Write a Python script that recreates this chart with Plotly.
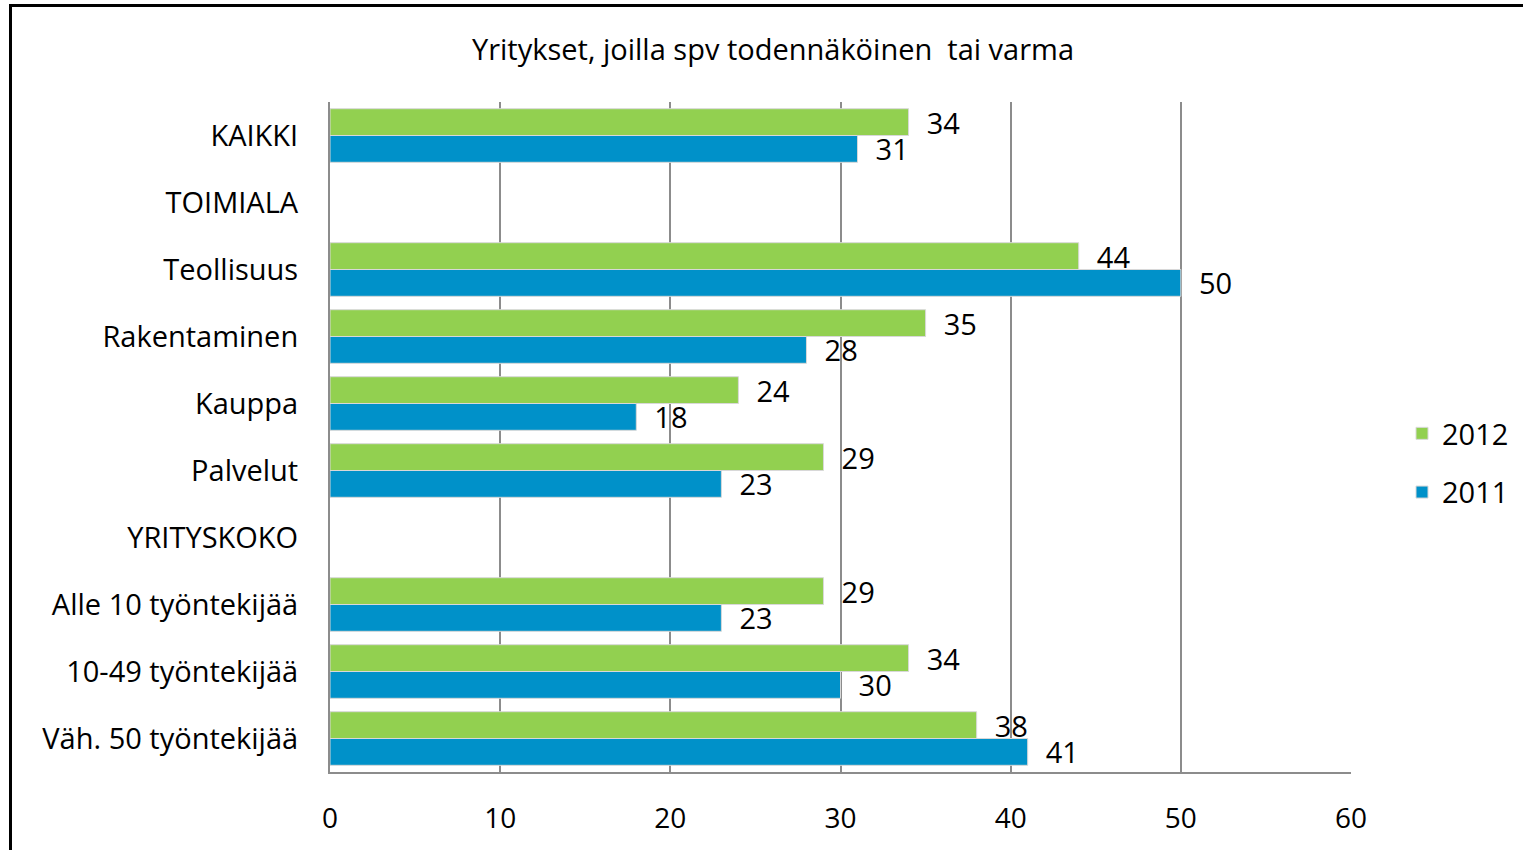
import plotly.graph_objects as go

categories = ["KAIKKI", "TOIMIALA", "Teollisuus", "Rakentaminen", "Kauppa", "Palvelut",
              "YRITYSKOKO", "Alle 10 työntekijää", "10-49 työntekijää", "Väh. 50 työntekijää"]
values_2012 = [34, None, 44, 35, 24, 29, None, 29, 34, 38]
values_2011 = [31, None, 50, 28, 18, 23, None, 23, 30, 41]
x_ticks = [0, 10, 20, 30, 40, 50, 60]
title_text = "Yritykset, joilla spv todennäköinen  tai varma"

FONT = "Open Sans"
green = "#92D050"
blue = "#0091C9"

def labels(vals):
    return ["" if v is None else "\u00a0\u00a0" + str(v) for v in vals]

fig = go.Figure()
for name, vals, col in [("2012", values_2012, green), ("2011", values_2011, blue)]:
    fig.add_trace(go.Bar(y=categories, x=vals, orientation="h", name=name, legendgroup=name,
                         marker=dict(color=col, line=dict(color="#d8d8d8", width=1)),
                         text=labels(vals), textposition="outside", constraintext="none",
                         textfont=dict(family=FONT, size=29, color="black"), cliponaxis=False))

L, R, T, B = 330, 172, 102, 78
W, H = 1523, 850
pw, ph = W - L - R, H - T - B

def px_x(p):
    return (p - L) / pw

def px_y(p):
    return (H - B - p) / ph

fig.update_layout(
    width=W, height=H,
    margin=dict(l=L, r=R, t=T, b=B, autoexpand=False),
    paper_bgcolor="white", plot_bgcolor="white",
    barmode="group", bargap=0.2, bargroupgap=0,
    font=dict(family=FONT, size=29, color="black"),
    title=dict(text=title_text, x=773 / W, xanchor="center", y=1 - 50 / H, yanchor="middle",
               font=dict(family=FONT, size=29, color="black")),
    legend=dict(x=px_x(1402), xanchor="left", y=px_y(408), yanchor="top",
                font=dict(family=FONT, size=29, color="black"),
                tracegroupgap=18, bgcolor="rgba(0,0,0,0)"),
    showlegend=True,
    shapes=[dict(type="rect", xref="paper", yref="paper",
                 x0=px_x(10.5), x1=px_x(1540), y0=px_y(5.5), y1=px_y(880),
                 line=dict(color="black", width=3), fillcolor="rgba(0,0,0,0)", layer="above")],
)
fig.update_xaxes(range=[0, 60], tickvals=x_ticks, showgrid=True, gridcolor="#8c8c8c", gridwidth=2,
                 showline=True, linecolor="#8c8c8c", linewidth=2, zeroline=False, ticks="",
                 ticklabelstandoff=20, tickfont=dict(family=FONT, size=28, color="black"))
fig.update_yaxes(categoryorder="array", categoryarray=categories, autorange="reversed",
                 showgrid=False, showline=True, linecolor="#8c8c8c", linewidth=2, ticks="",
                 ticklabelstandoff=24, tickfont=dict(family=FONT, size=29, color="black"))

fig.write_html("out.html", config={"displayModeBar": False},
               post_script="document.body.style.margin='0';")
